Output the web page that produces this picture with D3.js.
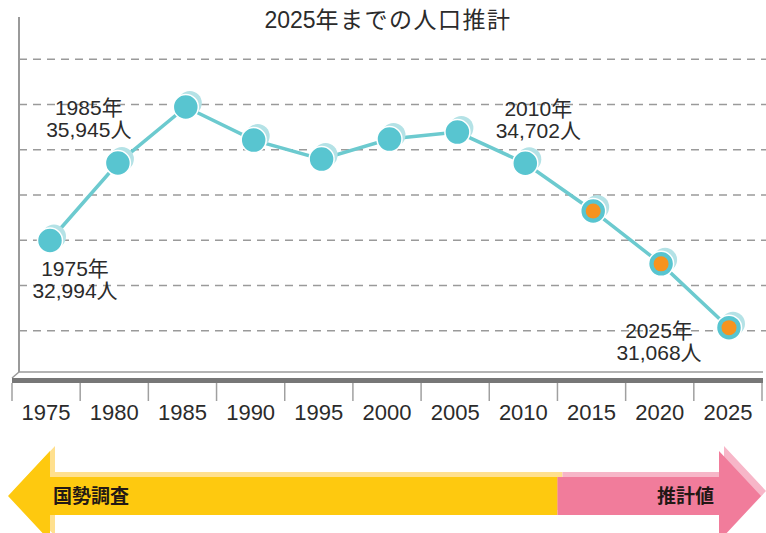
<!DOCTYPE html>
<html>
<head>
<meta charset="utf-8">
<script src="https://cdn.jsdelivr.net/npm/d3@7"></script>
<style>
  html, body { margin: 0; padding: 0; background: #fff; }
  svg { display: block; font-family: "Liberation Sans", "Noto Sans CJK JP", sans-serif; }
</style>
</head>
<body>
<script>
// data
const years = [1975, 1980, 1985, 1990, 1995, 2000, 2005, 2010, 2015, 2020, 2025];
const population = [32994, 34706, 35945, 35214, 34794, 35236, 35390, 34702, 33647, 32478, 31068];
const firstEstimateYear = 2015;
const gridValues = [31000, 32000, 33000, 34000, 35000, 36000, 37000];
const labelYears = [1975, 1985, 2010, 2025];
const labelLines = [
  ['1975年', '32,994人'],
  ['1985年', '35,945人'],
  ['2010年', '34,702人'],
  ['2025年', '31,068人']
];
const titleNum = '2025';
const titleRest = '年までの人口推計';
const censusText = '国勢調査';
const estimateText = '推計値';

const width = 766;
const height = 533;

// label placement around its point (layout only)
const labelOffset = {
  1975: {dx: 25, dy: 35},
  1985: {dx: -97, dy: 8},
  2010: {dx: 13, dy: -47},
  2025: {dx: -70, dy: 10}
};

const svg = d3.select('body').append('svg')
  .attr('width', width)
  .attr('height', height);

// scales
const xBand = d3.scaleBand().domain(years).range([12, 762]).padding(0);
const xPoint = d3.scalePoint().domain(years).range([50, 729]);
const y = d3.scaleLinear().domain([30000, 38000]).range([376, 14]);

const axisX = 19;
const floorY = 372;

// title
const title = svg.append('text')
  .attr('x', 388)
  .attr('y', 28)
  .attr('text-anchor', 'middle')
  .attr('font-size', '23px')
  .attr('fill', '#2b2b2b');
title.append('tspan').text(titleNum);
title.append('tspan').attr('letter-spacing', '1.5px').text(titleRest);

// gridlines
svg.append('g')
  .selectAll('line')
  .data(gridValues)
  .enter()
  .append('line')
  .attr('x1', axisX)
  .attr('x2', width)
  .attr('y1', d => y(d))
  .attr('y2', d => y(d))
  .attr('stroke', '#9a9a9a')
  .attr('stroke-width', 1.5)
  .attr('stroke-dasharray', '8,6');

// vertical axis line
svg.append('line')
  .attr('x1', axisX).attr('x2', axisX)
  .attr('y1', 17).attr('y2', floorY)
  .attr('stroke', '#9a9a9a')
  .attr('stroke-width', 2);

// floor: thin edge + slanted corner + thick band
svg.append('path')
  .attr('d', `M${axisX},${floorY} L${xBand.range()[1] + 1},${floorY} M${axisX},${floorY} L${xBand.range()[0]},${floorY + 6}`)
  .attr('fill', 'none')
  .attr('stroke', '#9a9a9a')
  .attr('stroke-width', 1.5);

svg.append('rect')
  .attr('x', xBand.range()[0])
  .attr('y', floorY + 6)
  .attr('width', xBand.range()[1] - xBand.range()[0] + 1)
  .attr('height', 5)
  .attr('fill', '#777');

// x ticks at band edges
const tickPos = years.map(d => xBand(d)).concat([xBand.range()[1]]);
svg.append('g')
  .selectAll('line')
  .data(tickPos)
  .enter()
  .append('line')
  .attr('x1', d => d).attr('x2', d => d)
  .attr('y1', floorY + 11).attr('y2', 401)
  .attr('stroke', '#a0a0a0')
  .attr('stroke-width', 1.5);

svg.append('g')
  .selectAll('text')
  .data(years)
  .enter()
  .append('text')
  .attr('x', d => xBand(d) + xBand.bandwidth() / 2)
  .attr('y', 420)
  .attr('text-anchor', 'middle')
  .attr('font-size', '22px')
  .attr('fill', '#2b2b2b')
  .text(d => d);

// line
const pts = years.map((yr, i) => ({year: yr, value: population[i]}));
const line = d3.line().x(d => xPoint(d.year)).y(d => y(d.value));

svg.append('path')
  .datum(pts)
  .attr('d', line)
  .attr('fill', 'none')
  .attr('stroke', '#6ccacf')
  .attr('stroke-width', 3.5);

// points: light echo, white ring, main dot, orange core for estimates
const dots = svg.append('g')
  .selectAll('g')
  .data(pts)
  .enter()
  .append('g')
  .attr('transform', d => `translate(${xPoint(d.year)},${y(d.value)})`);

dots.append('circle')
  .attr('cx', 4).attr('cy', -4).attr('r', 12)
  .attr('fill', '#b4e2e6');

dots.append('circle')
  .attr('r', 12.5)
  .attr('fill', '#58c5d0')
  .attr('stroke', '#fff')
  .attr('stroke-width', 1.5);

dots.filter(d => d.year >= firstEstimateYear)
  .append('circle')
  .attr('r', 7.5)
  .attr('fill', '#f7931e');

// value labels
labelYears.forEach((yr, i) => {
  const v = population[years.indexOf(yr)];
  const off = labelOffset[yr];
  const t = svg.append('text')
    .attr('text-anchor', 'middle')
    .attr('font-size', '21px')
    .attr('fill', '#2b2b2b');
  labelLines[i].forEach((s, j) => {
    t.append('tspan')
      .attr('x', xPoint(yr) + off.dx)
      .attr('y', y(v) + off.dy + j * 22)
      .text(s);
  });
});

// bottom arrows: census (left) and estimate (right)
const splitX = xBand(firstEstimateYear);
const cy = 496;
const bodyTop = 477, bodyBot = 515;
const headTop = 451, headBot = 541;

const leftArrow = [[8, cy], [50, headTop], [50, bodyTop], [splitX, bodyTop], [splitX, bodyBot], [50, bodyBot], [50, headBot]];
const rightArrow = [[splitX, bodyTop], [719, bodyTop], [719, headTop], [761, cy], [719, headBot], [719, bodyBot], [splitX, bodyBot]];
const poly = d3.line().curve(d3.curveLinearClosed);

svg.append('path').attr('d', poly(leftArrow)).attr('fill', '#ffe08e').attr('transform', 'translate(5,-5)');
svg.append('path').attr('d', poly(rightArrow)).attr('fill', '#f7b6c8').attr('transform', 'translate(5,-5)');
svg.append('path').attr('d', poly(leftArrow)).attr('fill', '#fec90f');
svg.append('path').attr('d', poly(rightArrow)).attr('fill', '#f17c9b');

svg.append('text')
  .attr('x', 53)
  .attr('y', cy + 7)
  .attr('font-size', '19px')
  .attr('font-weight', 'bold')
  .attr('fill', '#231815')
  .text(censusText);

svg.append('text')
  .attr('x', 714)
  .attr('y', cy + 7)
  .attr('text-anchor', 'end')
  .attr('font-size', '19px')
  .attr('font-weight', 'bold')
  .attr('fill', '#231815')
  .text(estimateText);
</script>
</body>
</html>
